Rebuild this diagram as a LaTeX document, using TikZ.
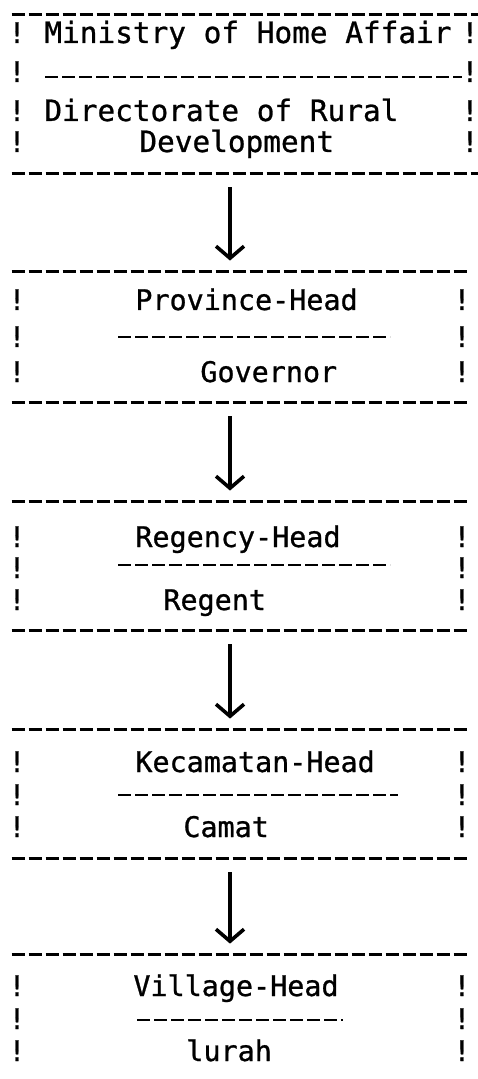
\documentclass[tikz,border=0pt]{standalone}
\usepackage{fontspec}
\setmonofont{DejaVu Sans Mono}[FakeBold=0.9]
\usetikzlibrary{arrows.meta, fit}
\tikzset{
    frame/.style={inner sep=0pt, minimum size=0pt},
    txt/.style={font=\ttfamily\fontsize{14.2pt}{16pt}\selectfont,
                inner sep=0pt, anchor=base west},
    widetxt/.style={txt, font=\ttfamily\fontsize{14.7pt}{16pt}\selectfont},
    bang/.style={txt, anchor=base},
    rule/.style={line width=1.3pt, dash pattern=on 6.6pt off 1.9pt},
    down/.style={-{Straight Barb[length=6pt, width=14pt]}, line width=1.8pt,
                 shorten <=7pt, shorten >=5.5pt},
}

\begin{document}
\begin{tikzpicture}[x=0.5pt, y=-0.5pt]
    \useasboundingbox (0,0) rectangle (477,1079);
    % the five boxes (top rule to bottom rule)
    \node[frame, fit={(12,15) (490,173)}] (home) {};
    \node[frame, fit={(12,272) (467,402)}] (prov) {};
    \node[frame, fit={(12,502) (467,630)}] (reg) {};
    \node[frame, fit={(12,730) (467,858)}] (kec) {};
    \node[frame, fit={(12,955) (467,1079)}] (vil) {};
    \coordinate (spine) at (230,0);
    % dashed rules above and below
    \foreach \b in {home,prov,reg,kec,vil}
        \draw[rule] (\b.north west) -- (\b.north east);
    \foreach \b in {home,prov,reg,kec}
        \draw[rule] (\b.south west) -- (\b.south east);
    % side bars
    \foreach \y in {43,82,121,152} {
        \node[bang] (homeL\y) at (17,\y) {!};
        \node[bang] (homeR\y) at (470,\y) {!};
    }
    \foreach \y in {310,347,382,547,578,610,772,805,837,996,1029,1061} {
        \node[bang] (sideL\y) at (17,\y) {!};
        \node[bang] (sideR\y) at (462,\y) {!};
    }
    % texts
    \node[widetxt] (homeA) at (44,43) {Ministry of Home Affair};
    \node[widetxt] (homeB) at (44,121) {Directorate of Rural};
    \node[widetxt] (homeC) at (139,152) {Development};
    \node[txt] (provA) at (135,310) {Province-Head};
    \node[txt] (provB) at (200,382) {Governor};
    \node[txt] (regA) at (135,547) {Regency-Head};
    \node[txt] (regB) at (163,610) {Regent};
    \node[txt] (kecA) at (135,772) {Kecamatan-Head};
    \node[txt] (kecB) at (183,837) {Camat};
    \node[txt] (vilA) at (133,996) {Village-Head};
    \node[txt] (vilB) at (186,1061) {lurah};
    % dividers between head and title
    \draw[rule] (45,77) -- (462,77);
    \draw[rule] (118,337) -- (390,337);
    \draw[rule] (118,565) -- (390,565);
    \draw[rule] (118,795) -- (398,795);
    \draw[rule] (137,1020) -- (343,1020);
    % chain of command
    \draw[down] (home.south -| spine) -- (prov.north -| spine);
    \draw[down] (prov.south -| spine) -- (reg.north -| spine);
    \draw[down] (reg.south -| spine) -- (kec.north -| spine);
    \draw[down] (kec.south -| spine) -- (vil.north -| spine);
\end{tikzpicture}
\end{document}
